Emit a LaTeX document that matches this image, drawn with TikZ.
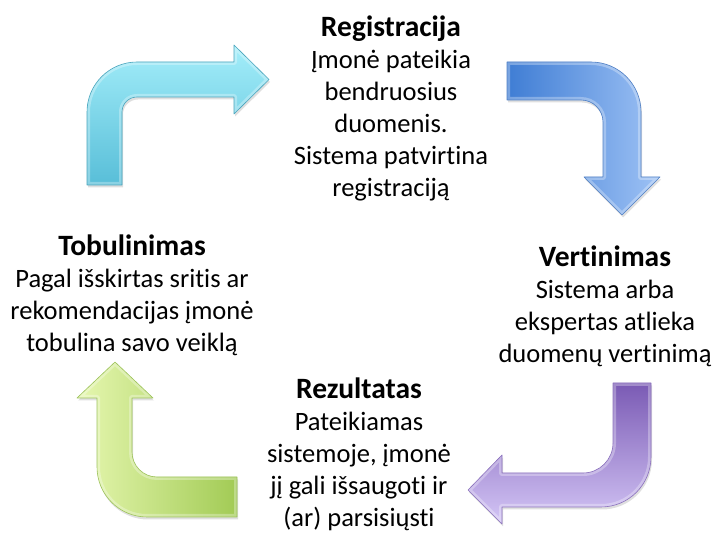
\documentclass[tikz,border=0pt]{standalone}
\usepackage{fontspec}
\setmainfont[Ligatures={NoCommon}]{Carlito}
\usetikzlibrary{shadows}
\definecolor{cyanA}{HTML}{A4EEFA}
\definecolor{cyanB}{HTML}{58BED8}
\definecolor{cyanE}{HTML}{48A4BC}
\definecolor{blueA}{HTML}{3F7DD4}
\definecolor{blueB}{HTML}{9EC2F5}
\definecolor{blueE}{HTML}{4F7FC4}
\definecolor{purA}{HTML}{7A5AB4}
\definecolor{purB}{HTML}{D4C6F6}
\definecolor{purE}{HTML}{8A70BC}
\definecolor{grnA}{HTML}{E6F7B0}
\definecolor{grnB}{HTML}{A2CB55}
\definecolor{grnE}{HTML}{9CC25A}
\newcommand\pathCyan{(87,185) -- (87,112) arc[start angle=180, end angle=270, radius=50]
  -- (234,62) -- (234,45) -- (269,79.5) -- (234,114) -- (234,97)
  -- (137,97) arc[start angle=270, end angle=180, radius=15]
  -- (122,185) -- cycle}
\newcommand\pathBlue{(507,62) -- (591,62) arc[start angle=270, end angle=360, radius=50]
  -- (641,177) -- (660,177) -- (622,215) -- (584,177) -- (603,177)
  -- (603,122) arc[start angle=0, end angle=-90, radius=22]
  -- (507,100) -- cycle}
\newcommand\pathPurple{(613,383) -- (651,383) -- (651,457) arc[start angle=0, end angle=90, radius=50]
  -- (502,507) -- (502,524) -- (468,490) -- (502,455) -- (502,473)
  -- (583,473) arc[start angle=90, end angle=0, radius=30]
  -- cycle}
\newcommand\pathGreen{(237,517) -- (147,517) arc[start angle=90, end angle=180, radius=50]
  -- (97,398) -- (77,398) -- (115,362) -- (153,398) -- (132,398)
  -- (132,452) arc[start angle=180, end angle=90, radius=25]
  -- (237,477) -- cycle}
\newcommand\ttl[1]{{\fontsize{29.5}{32}\selectfont\bfseries #1}}
\begin{document}
\begin{tikzpicture}[x=1pt,y=-1pt,
  txt/.style={align=center, inner sep=0pt, anchor=north, font=\fontsize{26.5}{32}\selectfont},
  arrowshape/.style={drop shadow={opacity=0.25, shadow xshift=1pt, shadow yshift=-2.5pt}},
  bevel/.style={draw=white, opacity=0.3, line width=6pt, line join=round},
  rim/.style={line width=0.6pt, line join=round}]
\useasboundingbox (0,0) rectangle (713,537);

% Arrow 1 (cyan, top-left)
\path[arrowshape, top color=cyanA, bottom color=cyanB] \pathCyan;
\begin{scope}\clip \pathCyan; \draw[bevel] \pathCyan; \end{scope}
\draw[rim, draw=cyanE] \pathCyan;

% Arrow 2 (blue, top-right)
\path[arrowshape, left color=blueA, right color=blueB] \pathBlue;
\begin{scope}\clip \pathBlue; \draw[bevel] \pathBlue; \end{scope}
\draw[rim, draw=blueE] \pathBlue;

% Arrow 3 (purple, bottom-right)
\path[arrowshape, top color=purA, bottom color=purB] \pathPurple;
\begin{scope}\clip \pathPurple; \draw[bevel] \pathPurple; \end{scope}
\draw[rim, draw=purE] \pathPurple;

% Arrow 4 (green, bottom-left)
\path[arrowshape, left color=grnA, right color=grnB] \pathGreen;
\begin{scope}\clip \pathGreen; \draw[bevel] \pathGreen; \end{scope}
\draw[rim, draw=grnE] \pathGreen;

\node[txt] (reg) at (391,13.6) {\strut\ttl{Registracija}\\Įmonė pateikia\\bendruosius\\duomenis.\\Sistema patvirtina\\registraciją};
\node[txt] (vert) at (605,243.6) {\strut\ttl{Vertinimas}\\Sistema arba\\ekspertas atlieka\\duomenų vertinimą};
\node[txt] (rez) at (359,375.6) {\strut\ttl{Rezultatas}\\Pateikiamas\\sistemoje, įmonė\\jį gali išsaugoti ir\\(ar) parsisiųsti};
\node[txt] (tob) at (132,232.6) {\strut\ttl{Tobulinimas}\\Pagal išskirtas sritis ar\\rekomendacijas įmonė\\tobulina savo veiklą};
\end{tikzpicture}
\end{document}
